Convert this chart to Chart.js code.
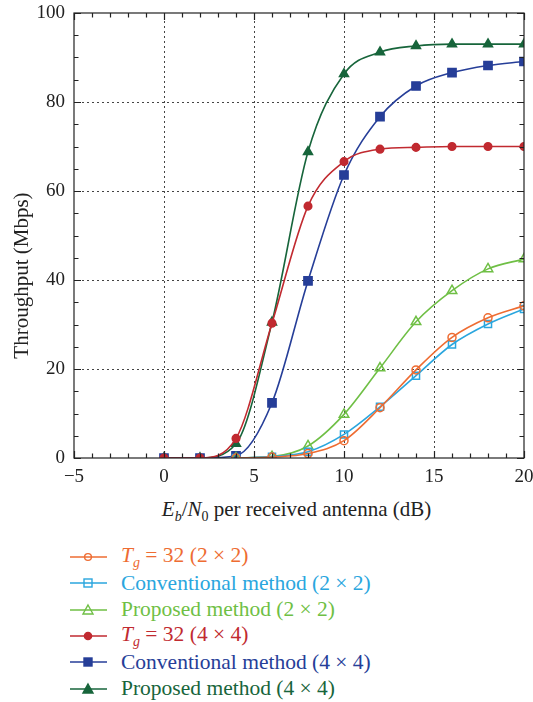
<!DOCTYPE html>
<html>
<head>
<meta charset="utf-8">
<script src="https://cdn.jsdelivr.net/npm/chart.js@4.4.0/dist/chart.umd.min.js"></script>
<style>
  body { margin: 0; background: #fff; font-family: "Liberation Serif", serif; }
  #wrap { position: relative; width: 533px; height: 702px; }
  #xtitle { position: absolute; top: 497px; left: 0; width: 533px; padding-left: 60px; box-sizing: border-box;
            text-align: center; font-size: 21px; color: #222; white-space: nowrap; }
  #xtitle sub { font-size: 14px; }
  #legend { position: absolute; top: 544px; left: 70px; }
  .item { height: 26.3px; display: flex; align-items: center; font-size: 21.5px; white-space: nowrap; }
  .item svg { margin-right: 14px; }
  .item sub { font-size: 14px; }
</style>
</head>
<body>
<div id="wrap">
  <canvas id="myChart" width="533" height="492"></canvas>
  <div id="xtitle"><i>E</i><sub><i>b</i></sub>/<i>N</i><sub>0</sub> per received antenna (dB)</div>
  <div id="legend"></div>
</div>
<script>
// x positions (dB)
const snr4 = [0, 2, 4, 6, 8, 10, 12, 14, 16, 18, 20];
const snr2 = [4, 6, 8, 10, 12, 14, 16, 18, 20];

// throughput (Mbps)
const tg22 = [0, 0.2, 1, 3.9, 11.3, 19.8, 27.1, 31.5, 34.2];
const conv22 = [0, 0.3, 1.4, 5.3, 11.5, 18.5, 25.5, 30.1, 33.5];
const prop22 = [0, 0.3, 2.7, 9.8, 20.2, 30.6, 37.6, 42.5, 44.7];
const tg44 = [0, 0, 4.4, 30.3, 56.6, 66.6, 69.4, 69.8, 70, 70, 70];
const conv44 = [0, 0, 0.5, 12.4, 39.8, 63.6, 76.7, 83.6, 86.6, 88.2, 89.1];
const prop44 = [0, 0, 3.2, 30.5, 68.8, 86.3, 91.2, 92.6, 93, 93, 93];

const xTicks = [-5, 0, 5, 10, 15, 20];
const yTicks = [0, 20, 40, 60, 80, 100];
const yTitle = 'Throughput (Mbps)';

const series = [
  { label: '<i>T</i><sub><i>g</i></sub> = 32 (2 × 2)', x: snr2, y: tg22, color: '#ee6c32', style: 'circle', fill: false, r: 4 },
  { label: 'Conventional method (2 × 2)', x: snr2, y: conv22, color: '#2aa6de', style: 'rect', fill: false, r: 5 },
  { label: 'Proposed method (2 × 2)', x: snr2, y: prop22, color: '#6fbf45', style: 'triangle', fill: false, r: 5.5 },
  { label: '<i>T</i><sub><i>g</i></sub> = 32 (4 × 4)', x: snr4, y: tg44, color: '#c12a30', style: 'circle', fill: true, r: 3.8 },
  { label: 'Conventional method (4 × 4)', x: snr4, y: conv44, color: '#263e98', style: 'rect', fill: true, r: 5.8 },
  { label: 'Proposed method (4 × 4)', x: snr4, y: prop44, color: '#17653b', style: 'triangle', fill: true, r: 5.2 }
];

const datasets = series.map(s => ({
  label: s.label.replace(/<[^>]+>/g, ''),
  data: s.x.map((v, i) => ({ x: v, y: s.y[i] })),
  borderColor: s.color,
  borderWidth: 1.6,
  cubicInterpolationMode: 'monotone',
  pointStyle: s.style,
  pointRadius: s.r,
  pointHoverRadius: s.r,
  pointBorderWidth: 1.5,
  pointBorderColor: s.color,
  pointBackgroundColor: s.fill ? s.color : 'rgba(255,255,255,0)'
}));

// dotted grid at the inner major ticks, box with inward ticks, rotated y title
const frame = {
  id: 'frame',
  beforeDatasetsDraw(chart) {
    const { ctx, chartArea: a, scales } = chart;
    ctx.save();
    ctx.fillStyle = '#444';
    xTicks.slice(1, -1).forEach(v => {
      const px = Math.round(scales.x.getPixelForValue(v));
      for (let y = a.top + 3; y < a.bottom - 2; y += 5) ctx.fillRect(px, Math.round(y), 1, 2);
    });
    yTicks.slice(1, -1).forEach(v => {
      const py = Math.round(scales.y.getPixelForValue(v));
      for (let x = a.left + 3; x < a.right - 2; x += 5) ctx.fillRect(Math.round(x), py, 2, 1);
    });
    ctx.restore();
  },
  afterDraw(chart) {
    const { ctx, chartArea: a, scales } = chart;
    ctx.save();
    ctx.strokeStyle = '#222';
    ctx.lineWidth = 1.2;
    ctx.strokeRect(a.left, a.top, a.right - a.left, a.bottom - a.top);
    ctx.beginPath();
    for (let v = -5; v <= 20; v++) {
      const px = Math.round(scales.x.getPixelForValue(v)) + 0.5;
      const len = v % 5 === 0 ? 7 : 4.5;
      ctx.moveTo(px, a.bottom); ctx.lineTo(px, a.bottom - len);
      ctx.moveTo(px, a.top); ctx.lineTo(px, a.top + len);
    }
    for (let v = 0; v <= 100; v += 5) {
      const py = Math.round(scales.y.getPixelForValue(v)) + 0.5;
      const len = v % 20 === 0 ? 7 : 4.5;
      ctx.moveTo(a.left, py); ctx.lineTo(a.left + len, py);
      ctx.moveTo(a.right, py); ctx.lineTo(a.right - len, py);
    }
    ctx.stroke();

    ctx.translate(22, scales.y.getPixelForValue(41));
    ctx.rotate(-Math.PI / 2);
    ctx.font = '21px "Liberation Serif"';
    ctx.fillStyle = '#222';
    ctx.textAlign = 'center';
    ctx.textBaseline = 'middle';
    ctx.fillText(yTitle, 0, 0);
    ctx.restore();
  }
};

const font = { family: 'Liberation Serif', size: 19 };

new Chart(document.getElementById('myChart'), {
  type: 'line',
  data: { datasets },
  options: {
    responsive: false,
    animation: false,
    events: [],
    layout: { padding: { top: 13, right: 9, left: 0, bottom: 0 } },
    plugins: { legend: { display: false }, tooltip: { enabled: false } },
    scales: {
      x: {
        type: 'linear', min: -5, max: 20,
        afterBuildTicks: s => { s.ticks = xTicks.map(v => ({ value: v })); },
        afterFit: s => { s.height = 34; s.paddingRight = 0; s.paddingLeft = 0; },
        border: { display: false },
        grid: { display: false, drawTicks: false },
        ticks: { font, color: '#222', padding: 8, maxRotation: 0,
                 callback: v => String(v).replace('-', '\u2212') }
      },
      y: {
        min: 0, max: 100,
        afterBuildTicks: s => { s.ticks = yTicks.map(v => ({ value: v })); },
        afterFit: s => { s.width = 74; s.paddingTop = 0; s.paddingBottom = 0; },
        border: { display: false },
        grid: { display: false, drawTicks: false },
        ticks: { font, color: '#222', padding: 9 }
      }
    }
  },
  plugins: [frame]
});

// legend
function sample(s) {
  const c = s.color, f = s.fill ? c : 'none';
  let m;
  if (s.style === 'circle') m = `<circle cx="18" cy="8" r="${s.fill ? 3.6 : 3.4}" fill="${f}" stroke="${c}" stroke-width="1.4"/>`;
  else if (s.style === 'rect') m = `<rect x="14" y="4" width="8" height="8" fill="${f}" stroke="${c}" stroke-width="1.4"/>`;
  else m = `<polygon points="18,3 23,12 13,12" fill="${f}" stroke="${c}" stroke-width="1.4"/>`;
  return `<svg width="37" height="16"><line x1="0" y1="8" x2="37" y2="8" stroke="${c}" stroke-width="1.6"/>${m}</svg>`;
}
document.getElementById('legend').innerHTML = series.map(s =>
  `<div class="item" style="color:${s.color}">${sample(s)}<span>${s.label}</span></div>`).join('');
</script>
</body>
</html>
